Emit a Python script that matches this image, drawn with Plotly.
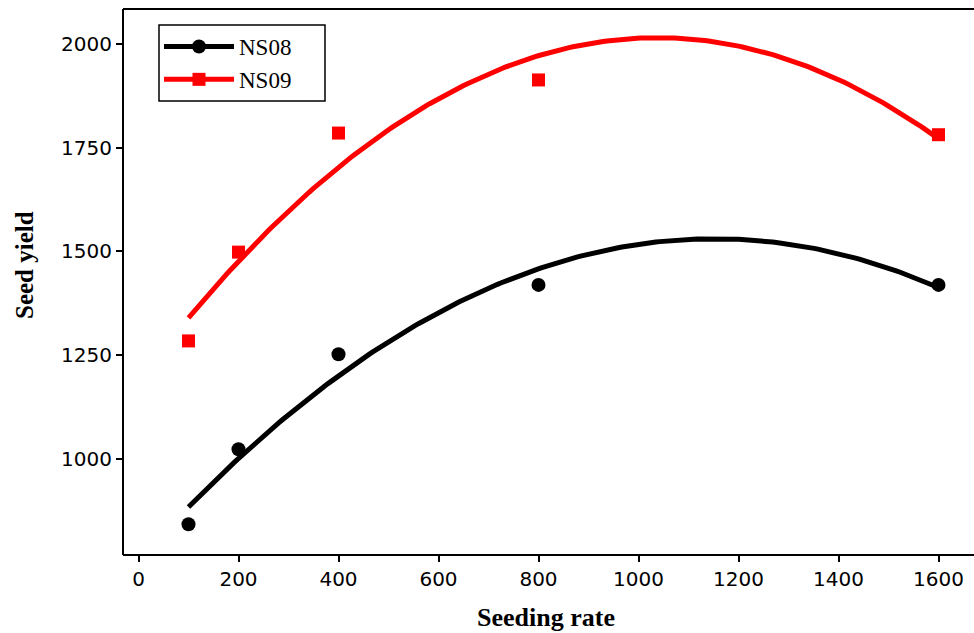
import numpy as np
import plotly.graph_objects as go

# Seeding rate (x) and observed seed yield for the two seasons
seeding_rate = [100, 200, 400, 800, 1600]
yield_ns08 = [842, 1023, 1252, 1419, 1419]
yield_ns09 = [1284, 1498, 1785, 1913, 1781]

x_ticks = [0, 200, 400, 600, 800, 1000, 1200, 1400, 1600]
y_ticks = [1000, 1250, 1500, 1750, 2000]

# Quadratic trend lines fitted to each season
xs = np.linspace(min(seeding_rate), max(seeding_rate), 200)
fit08 = np.polyval(np.polyfit(seeding_rate, yield_ns08, 2), xs)
fit09 = np.polyval(np.polyfit(seeding_rate, yield_ns09, 2), xs)

fig = go.Figure()

series = [
    ("NS08", yield_ns08, fit08, "#000000", "circle", 14),
    ("NS09", yield_ns09, fit09, "#ff0000", "square", 13),
]
for name, obs, fit, color, symbol, size in series:
    fig.add_trace(go.Scatter(x=xs, y=fit, mode="lines",
                             line=dict(color=color, width=5),
                             showlegend=False, hoverinfo="skip"))
    fig.add_trace(go.Scatter(x=seeding_rate, y=obs, mode="markers",
                             marker=dict(color=color, symbol=symbol, size=size),
                             showlegend=False))
    # legend entry showing line and marker together
    fig.add_trace(go.Scatter(x=[None], y=[None], mode="lines+markers", name=name,
                             line=dict(color=color, width=5),
                             marker=dict(color=color, symbol=symbol, size=size)))

W, H = 974, 633
L, R, T, B = 123, 0, 9, 78
plot_w = W - L - R
plot_h = H - T - B


def px_x(px):
    return (px - L) / plot_w


def px_y(py):
    return (H - B - py) / plot_h


fig.update_layout(
    width=W, height=H,
    margin=dict(l=L, r=R, t=T, b=B),
    paper_bgcolor="white", plot_bgcolor="white",
    showlegend=True,
    legend=dict(x=px_x(159), y=px_y(25), xanchor="left", yanchor="top",
                borderwidth=0, bgcolor="rgba(0,0,0,0)",
                font=dict(family="Liberation Serif", size=23, color="black"),
                itemwidth=70, tracegroupgap=0),
    font=dict(family="DejaVu Sans", size=20, color="black"),
)

axis_style = dict(ticks="outside", ticklen=6, tickwidth=1.5, tickcolor="black",
                  showline=False, showgrid=False, zeroline=False,
                  tickfont=dict(family="DejaVu Sans", size=20, color="black"))
fig.update_xaxes(range=[-31, 1671], tickvals=x_ticks, **axis_style)
fig.update_yaxes(range=[768, 2084], tickvals=y_ticks, **axis_style)

# frame: left, bottom and top edges of the plotting area
frame = dict(type="line", xref="paper", yref="paper", line=dict(color="black", width=2))
fig.add_shape(x0=0, x1=0, y0=0, y1=1, **frame)
fig.add_shape(x0=0, x1=1, y0=0, y1=0, **frame)
fig.add_shape(x0=0, x1=1, y0=1, y1=1, **frame)
# legend frame
fig.add_shape(type="rect", xref="paper", yref="paper",
              x0=px_x(159), x1=px_x(325), y0=px_y(101), y1=px_y(25),
              line=dict(color="black", width=1.5))

fig.add_annotation(text="<b>Seeding rate</b>", xref="paper", yref="paper",
                   x=px_x(546), y=px_y(617), showarrow=False,
                   xanchor="center", yanchor="middle",
                   font=dict(family="Liberation Serif", size=26, color="black"))
fig.add_annotation(text="<b>Seed yield</b>", xref="paper", yref="paper",
                   x=px_x(24), y=px_y(265), showarrow=False,
                   textangle=-90, xanchor="center", yanchor="middle",
                   font=dict(family="Liberation Serif", size=25, color="black"))

fig.write_html("out.html")
